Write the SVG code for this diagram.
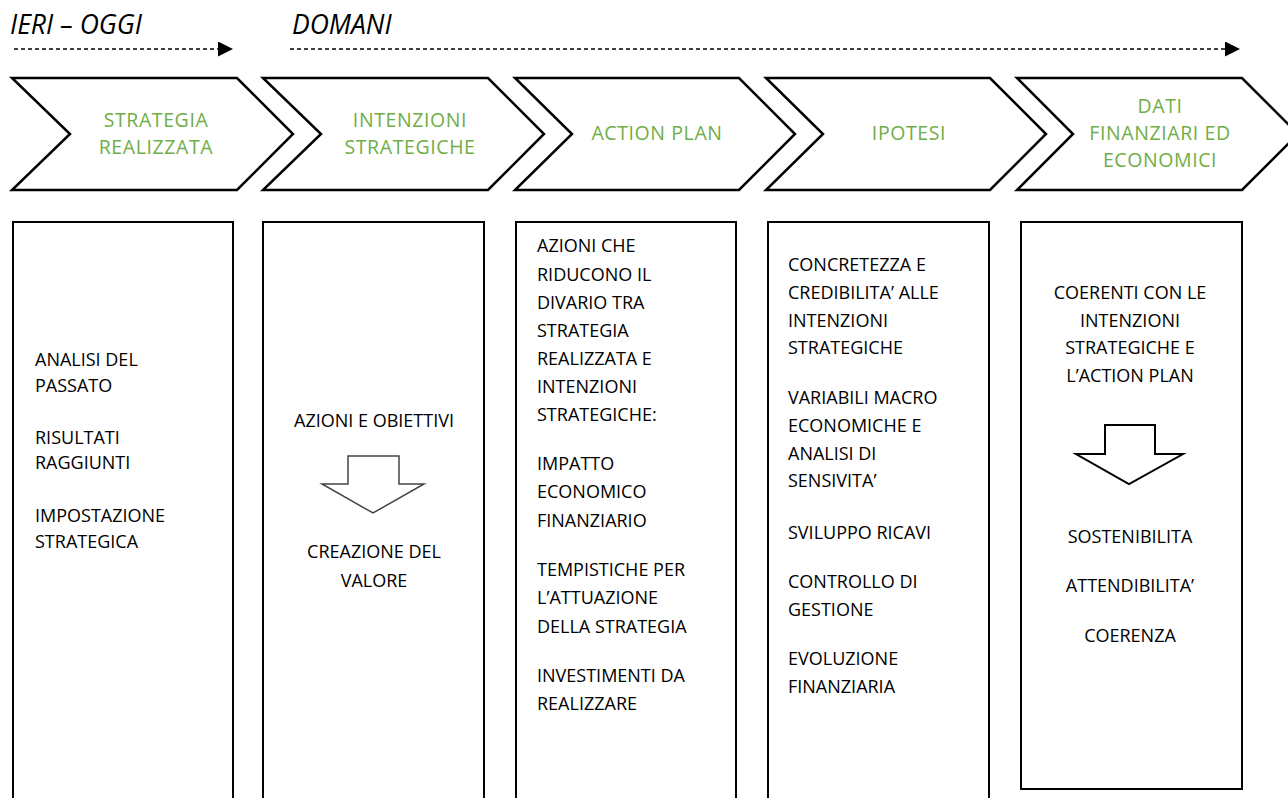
<svg xmlns="http://www.w3.org/2000/svg" width="1288" height="798" viewBox="0 0 1288 798">
<style>
.hdr{font-family:"Open Sans","Liberation Sans",sans-serif;font-style:italic;font-size:26.5px;fill:#000}
.chev{fill:#fff;stroke:#000;stroke-width:2.5;stroke-linejoin:miter}
.ct{font-family:"Open Sans","Liberation Sans",sans-serif;font-size:19.5px;letter-spacing:0.6px;fill:#70AD47;text-anchor:middle}
.box{fill:#fff;stroke:#000;stroke-width:2}
.bt{font-family:"Open Sans","Liberation Sans",sans-serif;font-size:18px;fill:#000}
.mid{text-anchor:middle}
.dash{stroke:#000;stroke-width:1.4;stroke-dasharray:4 3;fill:none}
.darr{fill:#fff;stroke:#000;stroke-width:2}
</style>
<defs>
<marker id="ah" markerWidth="15" markerHeight="15" refX="0" refY="7.5" orient="auto" markerUnits="userSpaceOnUse">
<path d="M0,0 L15,7.5 L0,15 Z" fill="#000"/>
</marker>
</defs>
<rect width="1288" height="798" fill="#fff"/>
<g id="header">
<text class="hdr" x="10" y="34">IERI – OGGI</text>
<text class="hdr" x="292" y="34">DOMANI</text>
</g>
<g id="connectors">
<line class="dash" x1="14" y1="49" x2="218" y2="49" marker-end="url(#ah)"/>
<line class="dash" x1="290" y1="49" x2="1225" y2="49" marker-end="url(#ah)"/>
</g>
<g id="chev1">
<polygon class="chev" points="12,78 237,78 293,134 237,190 12,190 70,134"/>
<text class="ct" x="156" y="127">STRATEGIA</text>
<text class="ct" x="156" y="154">REALIZZATA</text>
</g>
<g id="chev2">
<polygon class="chev" points="263,78 488,78 544,134 488,190 263,190 321,134"/>
<text class="ct" x="410" y="127">INTENZIONI</text>
<text class="ct" x="410" y="154">STRATEGICHE</text>
</g>
<g id="chev3">
<polygon class="chev" points="515,78 739,78 795,134 739,190 515,190 572,134"/>
<text class="ct" x="657" y="140">ACTION PLAN</text>
</g>
<g id="chev4">
<polygon class="chev" points="766,78 990,78 1046,134 990,190 766,190 823,134"/>
<text class="ct" x="909" y="140">IPOTESI</text>
</g>
<g id="chev5">
<polygon class="chev" points="1017,78 1242,78 1298,134 1242,190 1017,190 1073,134"/>
<text class="ct" x="1160" y="113">DATI</text>
<text class="ct" x="1160" y="140">FINANZIARI ED</text>
<text class="ct" x="1160" y="167">ECONOMICI</text>
</g>
<g id="box1">
<rect class="box" x="13" y="222" width="220" height="600"/>
<text class="bt" x="35" y="366">ANALISI DEL</text>
<text class="bt" x="35" y="392">PASSATO</text>
<text class="bt" x="35" y="444">RISULTATI</text>
<text class="bt" x="35" y="469">RAGGIUNTI</text>
<text class="bt" x="35" y="522">IMPOSTAZIONE</text>
<text class="bt" x="35" y="548">STRATEGICA</text>
</g>
<g id="box2">
<rect class="box" x="263" y="222" width="221" height="600"/>
<text class="bt mid" x="374" y="427">AZIONI E OBIETTIVI</text>
<polygon class="darr" style="stroke:#444;stroke-width:1.5" points="348,456 399,456 399,484 424,484 373,513 322,484 348,484"/>
<text class="bt mid" x="374" y="558">CREAZIONE DEL</text>
<text class="bt mid" x="374" y="587">VALORE</text>
</g>
<g id="box3">
<rect class="box" x="516" y="222" width="220" height="600"/>
<text class="bt" x="537" y="252">AZIONI CHE</text>
<text class="bt" x="537" y="281">RIDUCONO IL</text>
<text class="bt" x="537" y="309">DIVARIO TRA</text>
<text class="bt" x="537" y="337">STRATEGIA</text>
<text class="bt" x="537" y="365">REALIZZATA E</text>
<text class="bt" x="537" y="393">INTENZIONI</text>
<text class="bt" x="537" y="421">STRATEGICHE:</text>
<text class="bt" x="537" y="470">IMPATTO</text>
<text class="bt" x="537" y="498">ECONOMICO</text>
<text class="bt" x="537" y="527">FINANZIARIO</text>
<text class="bt" x="537" y="576">TEMPISTICHE PER</text>
<text class="bt" x="537" y="604">L’ATTUAZIONE</text>
<text class="bt" x="537" y="633">DELLA STRATEGIA</text>
<text class="bt" x="537" y="682">INVESTIMENTI DA</text>
<text class="bt" x="537" y="710">REALIZZARE</text>
</g>
<g id="box4">
<rect class="box" x="768" y="222" width="221" height="600"/>
<text class="bt" x="788" y="271">CONCRETEZZA E</text>
<text class="bt" x="788" y="299">CREDIBILITA’ ALLE</text>
<text class="bt" x="788" y="327">INTENZIONI</text>
<text class="bt" x="788" y="354">STRATEGICHE</text>
<text class="bt" x="788" y="404">VARIABILI MACRO</text>
<text class="bt" x="788" y="432">ECONOMICHE E</text>
<text class="bt" x="788" y="460">ANALISI DI</text>
<text class="bt" x="788" y="487">SENSIVITA’</text>
<text class="bt" x="788" y="539">SVILUPPO RICAVI</text>
<text class="bt" x="788" y="588">CONTROLLO DI</text>
<text class="bt" x="788" y="616">GESTIONE</text>
<text class="bt" x="788" y="665">EVOLUZIONE</text>
<text class="bt" x="788" y="693">FINANZIARIA</text>
</g>
<g id="box5">
<rect class="box" x="1021" y="222" width="221" height="567"/>
<text class="bt mid" x="1130" y="299">COERENTI CON LE</text>
<text class="bt mid" x="1130" y="327">INTENZIONI</text>
<text class="bt mid" x="1130" y="354">STRATEGICHE E</text>
<text class="bt mid" x="1130" y="382">L’ACTION PLAN</text>
<polygon class="darr" points="1105,425 1155,425 1155,454 1183,454 1129,484 1076,454 1105,454"/>
<text class="bt mid" x="1130" y="543">SOSTENIBILITA</text>
<text class="bt mid" x="1130" y="592">ATTENDIBILITA’</text>
<text class="bt mid" x="1130" y="642">COERENZA</text>
</g>
</svg>
